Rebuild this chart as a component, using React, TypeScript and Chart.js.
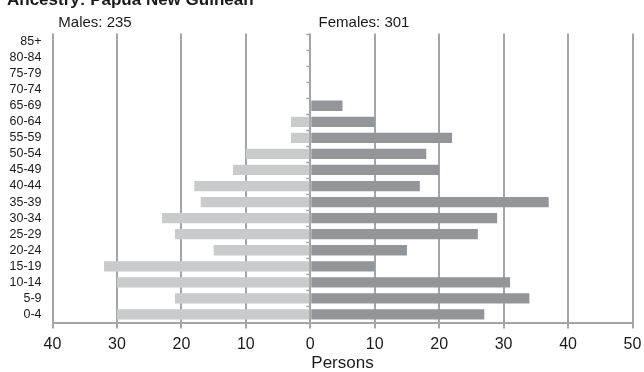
import React, { useEffect, useRef } from "react";
import { Chart, registerables } from "chart.js";

Chart.register(...registerables);

const ageGroups = ["85+", "80-84", "75-79", "70-74", "65-69", "60-64", "55-59", "50-54", "45-49", "40-44", "35-39", "30-34", "25-29", "20-24", "15-19", "10-14", "5-9", "0-4"];
const males = [0, 0, 0, 0, 0, 3, 3, 10, 12, 18, 17, 23, 21, 15, 32, 30, 21, 30];
const females = [0, 0, 0, 0, 5, 10, 22, 18, 20, 17, 37, 29, 26, 15, 10, 31, 34, 27];
const chartTitle = "Ancestry: Papua New Guinean";
const maleLabel = "Males: 235";
const femaleLabel = "Females: 301";
const axisTitle = "Persons";

const FONT = "'Liberation Sans', Arial, sans-serif";
const GRID = "#a4a5a7";
const TEXT = "#1a1a1a";

const overlayPlugin = {
  id: "overlay",
  afterDraw(chart: any) {
    const ctx = chart.ctx;
    const x = chart.scales.x;
    const x0 = x.getPixelForValue(0);
    const top = chart.chartArea.top;
    const bottom = chart.chartArea.bottom;
    const n = ageGroups.length;
    ctx.save();
    ctx.strokeStyle = GRID;
    // small ticks on the zero line at category boundaries
    ctx.lineWidth = 1.5;
    for (let i = 0; i <= n; i++) {
      const yy = Math.round(top + (i * (bottom - top)) / n) + 0.5;
      ctx.beginPath();
      ctx.moveTo(x0 - 4, yy);
      ctx.lineTo(x0, yy);
      ctx.stroke();
    }
    // tick marks below the x axis
    ctx.lineWidth = 2;
    for (const t of x.ticks) {
      const px = Math.round(x.getPixelForValue(t.value));
      ctx.beginPath();
      ctx.moveTo(px, bottom);
      ctx.lineTo(px, bottom + 6);
      ctx.stroke();
    }
    ctx.fillStyle = TEXT;
    ctx.font = `bold 17px ${FONT}`;
    ctx.textAlign = "left";
    ctx.textBaseline = "alphabetic";
    ctx.fillText(chartTitle, 7, 5);
    ctx.font = `15px ${FONT}`;
    ctx.textAlign = "center";
    ctx.fillText(maleLabel, 95, 26.5);
    ctx.fillText(femaleLabel, 364, 26.5);
    ctx.restore();
  },
};

export default function App() {
  const ref = useRef<HTMLCanvasElement>(null);
  useEffect(() => {
    if (!ref.current) return;
    const chart = new Chart(ref.current, {
      type: "bar",
      data: {
        labels: ageGroups,
        datasets: [
          {
            label: "Males",
            data: males.map((v) => -v),
            backgroundColor: "#c9cacc",
            borderWidth: 0,
            categoryPercentage: 1,
            barPercentage: 0.64,
          },
          {
            label: "Females",
            data: females,
            backgroundColor: "#939598",
            borderWidth: 0,
            categoryPercentage: 1,
            barPercentage: 0.64,
          },
        ],
      },
      options: {
        indexAxis: "y",
        animation: false,
        responsive: false,
        devicePixelRatio: 1,
        layout: { padding: { top: 33.5, right: 11.5, left: 0, bottom: 0 } },
        plugins: {
          legend: { display: false },
          tooltip: { enabled: false },
          title: { display: false },
        },
        scales: {
          x: {
            type: "linear",
            min: -40,
            max: 50,
            stacked: true,
            ticks: {
              stepSize: 10,
              callback: (v: any) => String(Math.abs(Number(v))),
              font: { size: 16, family: FONT },
              color: TEXT,
              padding: 2,
              maxRotation: 0,
            },
            grid: { color: GRID, lineWidth: 2, tickLength: 10, drawTicks: true, tickColor: "rgba(0,0,0,0)" },
            border: { display: true, color: GRID, width: 2 },
            title: {
              display: true,
              text: axisTitle,
              font: { size: 17, family: FONT, lineHeight: 1.0 },
              color: TEXT,
              padding: { top: 0, bottom: 0 },
            },
            afterFit: (s: any) => {
              s.height = 49.5;
            },
          },
          y: {
            stacked: true,
            grid: { display: false, drawTicks: false },
            border: { display: false },
            ticks: { font: { size: 12.5, family: FONT }, color: TEXT, padding: 11, autoSkip: false },
            afterFit: (s: any) => {
              s.width = 52.5;
            },
          },
        },
      } as any,
      plugins: [overlayPlugin],
    });
    return () => chart.destroy();
  }, []);
  return (
    <div style={{ position: "fixed", left: 0, top: 0, width: 644, height: 372, background: "#fff" }}>
      <canvas ref={ref} width={644} height={372} />
    </div>
  );
}
